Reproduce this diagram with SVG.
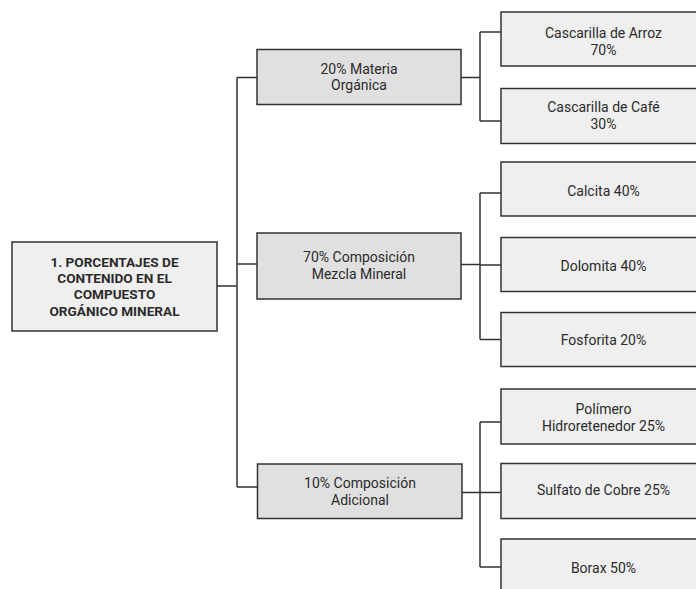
<svg xmlns="http://www.w3.org/2000/svg" width="696" height="589" viewBox="0 0 696 589">
<style>
.bx{stroke:#333;stroke-width:1.5}
.root{fill:#efefef}
.mid{fill:#e0e0e0}
.leaf{fill:#efefef}
text{font-family:Roboto,"Liberation Sans",sans-serif;fill:#2b2b2b;text-anchor:middle;dominant-baseline:central}
.t{font-size:14px}
.b{font-size:13.6px;font-weight:bold}
.ln{fill:none;stroke:#333;stroke-width:1.5}
</style>
<rect width="696" height="589" fill="#fff"/>
<g id="connectors" class="ln">
<path d="M217 286H237M237 77.5V487M237 77.5H257M237 264H257M237 487H257"/>
<path d="M461 77.5H480M480 32V121M480 32H501M480 121H501"/>
<path d="M461 264.5H480M480 193V339.5M480 193H501M480 265H501M480 339.5H501"/>
<path d="M462 492.5H480M480 422V567M480 422H501M480 492.5H501M480 567H501"/>
</g>
<g id="root"><rect class="bx root" x="12" y="242" width="205" height="89"/>
<text class="b" x="114.5" y="262">1. PORCENTAJES DE</text>
<text class="b" x="114.5" y="278">CONTENIDO EN EL</text>
<text class="b" x="114.5" y="294.3">COMPUESTO</text>
<text class="b" x="114.5" y="310.7">ORGÁNICO MINERAL</text></g>
<g id="materia"><rect class="bx mid" x="257" y="49.5" width="204" height="55"/>
<text class="t" x="359" y="68.5">20% Materia</text><text class="t" x="359" y="85">Orgánica</text></g>
<g id="mezcla"><rect class="bx mid" x="257" y="233" width="204" height="66"/>
<text class="t" x="359" y="257">70% Composición</text><text class="t" x="359" y="274">Mezcla Mineral</text></g>
<g id="adicional"><rect class="bx mid" x="257.5" y="464" width="204.5" height="54.5"/>
<text class="t" x="360" y="483">10% Composición</text><text class="t" x="360" y="500">Adicional</text></g>
<g id="arroz"><rect class="bx leaf" x="501" y="12" width="210" height="54"/>
<text class="t" x="603.5" y="33">Cascarilla de Arroz</text><text class="t" x="603.5" y="50">70%</text></g>
<g id="cafe"><rect class="bx leaf" x="501" y="88.5" width="210" height="55"/>
<text class="t" x="603.5" y="107">Cascarilla de Café</text><text class="t" x="603.5" y="124">30%</text></g>
<g id="calcita"><rect class="bx leaf" x="501" y="162" width="210" height="54"/>
<text class="t" x="603.5" y="190.5">Calcita 40%</text></g>
<g id="dolomita"><rect class="bx leaf" x="501" y="237.5" width="210" height="54"/>
<text class="t" x="603.5" y="265.5">Dolomita 40%</text></g>
<g id="fosforita"><rect class="bx leaf" x="501" y="312.5" width="210" height="54"/>
<text class="t" x="603.5" y="339.5">Fosforita 20%</text></g>
<g id="polimero"><rect class="bx leaf" x="501" y="389" width="210" height="55"/>
<text class="t" x="603.5" y="408.5">Polímero</text><text class="t" x="603.5" y="426">Hidroretenedor 25%</text></g>
<g id="sulfato"><rect class="bx leaf" x="501" y="463.5" width="210" height="55"/>
<text class="t" x="603.5" y="489.5">Sulfato de Cobre 25%</text></g>
<g id="borax"><rect class="bx leaf" x="501" y="539" width="210" height="55"/>
<text class="t" x="603.5" y="567.5">Borax 50%</text></g>
</svg>
